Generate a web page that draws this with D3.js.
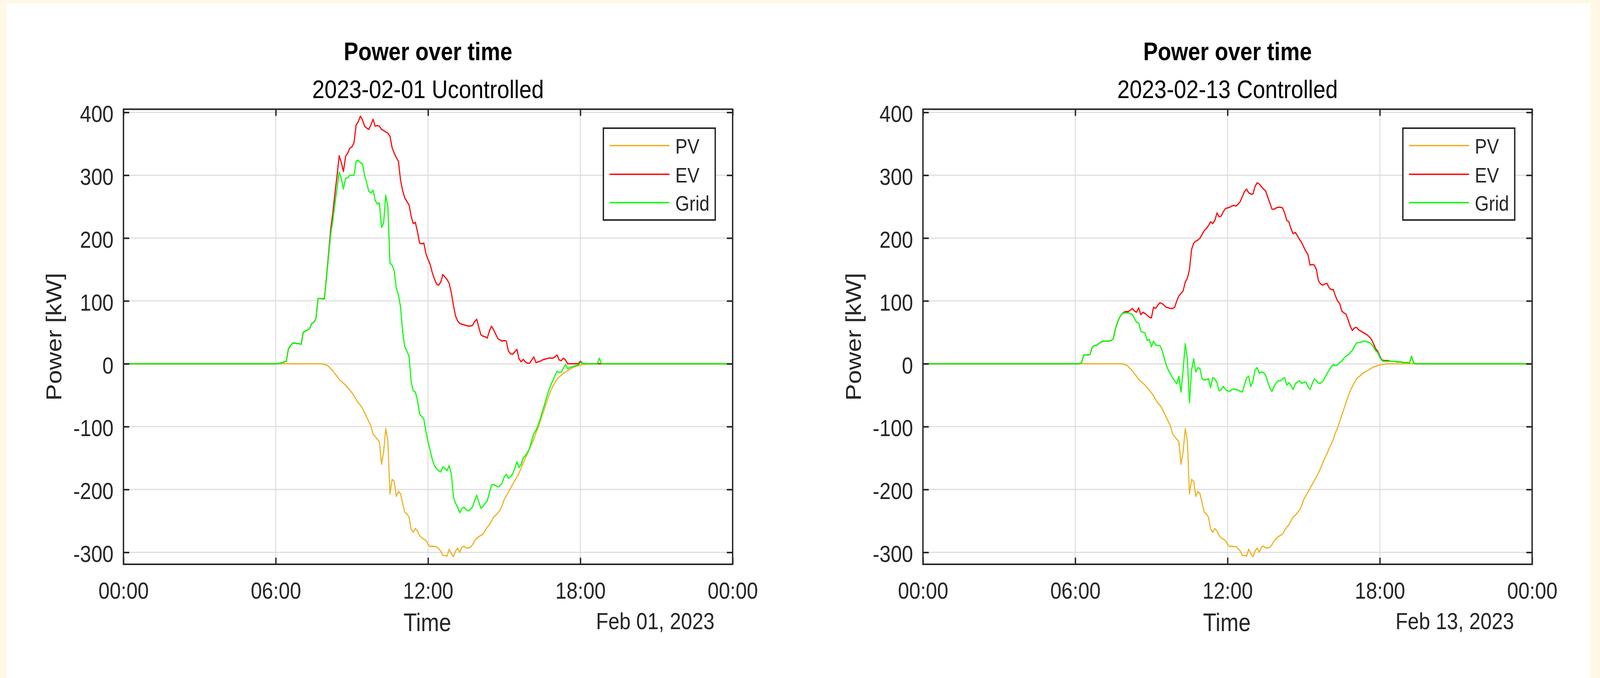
<!DOCTYPE html>
<html>
<head>
<meta charset="utf-8">
<script src="https://cdn.jsdelivr.net/npm/d3@7"></script>
<style>
html,body{margin:0;padding:0;background:#FFF8E5;width:100%;height:100%;overflow:hidden;}
svg{display:block;width:100vw;height:100vh;}
text{font-family:"Liberation Sans",Arial,Helvetica,sans-serif;}
</style>
</head>
<body>
<svg id="chart" viewBox="0 0 4691 1735" preserveAspectRatio="none"></svg>
<script>
// ---------------- DATA ----------------
const times = ["00:00",
"06:00","06:05","06:10","06:15","06:20","06:25","06:30","06:35","06:40","06:45","06:50","06:55",
"07:00","07:05","07:10","07:15","07:20","07:25","07:30","07:35","07:40","07:45","07:50","07:55",
"08:00","08:05","08:10","08:15","08:20","08:25","08:30","08:35","08:40","08:45","08:50","08:55",
"09:00","09:05","09:10","09:15","09:20","09:25","09:30","09:35","09:40","09:45","09:50","09:55",
"10:00","10:05","10:10","10:15","10:20","10:25","10:30","10:35","10:40","10:45","10:50","10:55",
"11:00","11:05","11:10","11:15","11:20","11:25","11:30","11:35","11:40","11:45","11:50","11:55",
"12:00","12:05","12:10","12:15","12:20","12:25","12:30","12:35","12:40","12:45","12:50","12:55",
"13:00","13:05","13:10","13:15","13:20","13:25","13:30","13:35","13:40","13:45","13:50","13:55",
"14:00","14:05","14:10","14:15","14:20","14:25","14:30","14:35","14:40","14:45","14:50","14:55",
"15:00","15:05","15:10","15:15","15:20","15:25","15:30","15:35","15:40","15:45","15:50","15:55",
"16:00","16:05","16:10","16:15","16:20","16:25","16:30","16:35","16:40","16:45","16:50","16:55",
"17:00","17:05","17:10","17:15","17:20","17:25","17:30","17:35","17:40","17:45","17:50","17:55",
"18:00","18:05","18:10","18:15","18:20","18:25","18:30","18:35","18:40","18:45","18:50","18:55",
"19:00","19:05","19:10","19:15","19:20","19:25","19:30",
"24:00"];

// PV power [kW] (same profile on both days)
const pvPower = [0,
0,0,0,0,0,0,0,0,0,0,0,0,
0,0,0,0,0,0,0,0,0,0,0,-1,
-2,-4,-8,-11,-16,-20,-25,-28,-31,-34,-38,-42,
-46,-51,-57,-62,-66,-71,-78,-85,-92,-99,-112,-116,
-120,-124,-160,-140,-103,-122,-207,-184,-187,-211,-203,-207,
-222,-236,-239,-244,-263,-268,-262,-266,-273,-277,-279,-281,
-287,-291,-290,-291,-291,-294,-298,-305,-305,-306,-295,-302,
-307,-298,-293,-300,-292,-290,-293,-293,-292,-288,-282,-278,
-275,-273,-271,-265,-260,-256,-250,-244,-241,-237,-233,-226,
-216,-210,-204,-198,-192,-186,-180,-174,-166,-158,-150,-143,
-135,-128,-120,-110,-102,-92,-82,-72,-62,-52,-43,-36,
-30,-24,-21,-18,-15,-13,-11,-9,-7,-5,-4,-3,
-2,-1,-1,0,0,0,0,0,0,0,0,0,
0,0,0,0,0,0,0,
0];

// 2023-02-01 uncontrolled
const evUncontrolled = [0,
0,0,1,2,3,4,24,29,33,33,32,32,
31,50,52,54,56,64,66,72,104,104,103,104,
139,177,215,240,272,300,331,320,306,330,335,343,
345,352,380,385,394,388,378,375,373,380,389,378,
379,378,373,371,369,367,362,344,335,328,322,292,
275,264,258,253,235,223,225,210,192,191,192,175,
166,158,145,135,127,125,130,142,138,134,128,113,
93,76,68,64,63,62,61,60,60,61,67,71,
58,46,44,43,41,52,60,54,47,40,38,36,
37,36,20,16,15,19,23,8,3,7,3,1,
1,6,11,2,3,4,6,7,8,9,9,9,
11,14,6,5,9,6,0,0,0,0,0,0,
4,1,0,0,0,0,0,0,0,0,0,0,
0,0,0,0,0,0,0,
0];
const gridUncontrolled = [0,
0,0,1,2,3,4,24,29,33,33,32,32,
31,50,52,54,56,64,66,72,104,104,103,103,
137,173,207,229,256,280,305,295,278,295,296,300,
300,300,322,324,320,318,300,288,274,272,276,260,
254,256,217,224,268,250,160,157,148,120,110,90,
50,27,20,12,-28,-43,-45,-58,-80,-84,-88,-108,
-124,-138,-152,-162,-167,-170,-172,-164,-167,-170,-162,-175,
-212,-222,-228,-237,-230,-228,-232,-234,-232,-228,-218,-209,
-220,-230,-227,-222,-218,-205,-193,-192,-194,-196,-194,-190,
-180,-176,-182,-180,-175,-167,-156,-165,-160,-150,-146,-141,
-134,-122,-111,-106,-98,-88,-76,-66,-54,-43,-34,-27,
-19,-12,-14,-13,-7,-1,-8,-6,-5,-4,-3,-2,
2,1,0,0,0,0,0,0,0,9,0,0,
0,0,0,0,0,0,0,
0];

// 2023-02-13 controlled
const evControlled = [0,
0,0,0,2,14,14,14,15,26,29,29,32,
34,36,36,36,36,37,40,56,66,74,79,82,
83,83,85,88,84,82,89,78,82,80,77,74,
73,90,88,93,97,96,93,90,89,88,88,90,
100,108,112,116,130,136,150,182,192,195,197,200,
206,212,215,220,226,223,228,240,234,235,242,247,
248,249,251,252,251,254,258,266,274,278,272,270,
270,282,288,286,282,278,275,265,256,246,246,248,
249,249,248,240,228,226,215,207,209,204,198,193,
186,179,174,157,158,157,150,132,127,125,127,128,
121,118,118,108,100,96,84,81,79,70,60,53,
57,58,54,52,50,48,46,43,39,32,24,20,
12,6,5,5,5,4,4,4,3,3,3,2,
2,2,1,12,1,0,0,
0];
const gridControlled = [0,
0,0,0,2,14,14,14,15,26,29,29,32,
34,36,36,36,36,37,40,56,66,74,79,81,
81,81,80,78,72,66,65,52,50,49,37,39,
27,36,30,29,29,22,10,-2,-10,-16,-22,-27,
-32,-20,-45,-10,32,8,-62,-10,8,-13,-6,-8,
-24,-26,-25,-24,-38,-22,-24,-30,-43,-41,-36,-41,
-43,-44,-41,-40,-41,-42,-44,-45,-34,-22,-20,-36,
-27,-10,-6,-15,-13,-14,-18,-29,-38,-44,-36,-30,
-27,-27,-24,-22,-34,-30,-35,-41,-32,-29,-27,-31,
-30,-29,-36,-41,-32,-24,-27,-31,-31,-28,-22,-16,
-10,-5,-1,-3,-2,2,4,9,12,14,18,21,
28,33,34,34,36,36,35,34,31,27,21,18,
10,5,4,4,4,4,4,4,3,3,3,2,
2,2,1,12,1,0,0,
0];

const seriesNames = ["PV", "EV", "Grid"];
const seriesColors = ["#EDB120", "#FF0000", "#00FF00"];
const yTickValues = [-300, -200, -100, 0, 100, 200, 300, 400];
const xTickLabels = ["00:00", "06:00", "12:00", "18:00", "00:00"];
const chartTitles = ["Power over time", "Power over time"];
const chartSubtitles = ["2023-02-01 Ucontrolled", "2023-02-13 Controlled"];
const dateLabels = ["Feb 01, 2023", "Feb 13, 2023"];
const chartDays = [1, 13];
const yLabel = "Power [kW]";
const xLabel = "Time";

// ---------------- DRAW ----------------
const svg = d3.select("#chart");
svg.append("rect").attr("x", 19).attr("y", 8).attr("width", 4644).attr("height", 1727).attr("fill", "#FFFFFF");

const W = 1786, H = 1164.5, TOP = 279.5;
const panelLefts = [362, 2706];
const AX = "#262626";
const evSets = [evUncontrolled, evControlled];
const gridSets = [gridUncontrolled, gridControlled];

panelLefts.forEach((x0, p) => {
  const day = chartDays[p];
  const parseT = s => { const [h, m] = s.split(":").map(Number); return new Date(2023, 1, day, h, m); };
  const tDates = times.map(parseT);
  const x = d3.scaleTime().domain([new Date(2023, 1, day, 0, 0), new Date(2023, 1, day + 1, 0, 0)]).range([0, W]);
  const y = d3.scaleLinear().domain([-319, 405]).range([H, 0]);
  const xTicks = d3.timeHour.every(6).range(x.domain()[0], new Date(2023, 1, day + 1, 0, 1));

  const g = svg.append("g").attr("transform", `translate(${x0},${TOP})`);

  // grid lines
  g.append("g").selectAll("line").data(xTicks).join("line")
    .attr("x1", d => x(d)).attr("x2", d => x(d)).attr("y1", 0).attr("y2", H)
    .attr("stroke", "#DFDFDF").attr("stroke-width", 3);
  g.append("g").selectAll("line").data(yTickValues).join("line")
    .attr("x1", 0).attr("x2", W).attr("y1", d => y(d)).attr("y2", d => y(d))
    .attr("stroke", "#DFDFDF").attr("stroke-width", 3);

  // series
  const series = [pvPower, evSets[p], gridSets[p]];
  const line = d3.line().x(d => x(d[0])).y(d => y(d[1]));
  series.forEach((vals, i) => {
    g.append("path").datum(tDates.map((t, k) => [t, vals[k]]))
      .attr("d", line).attr("fill", "none")
      .attr("stroke", seriesColors[i]).attr("stroke-width", 3.2)
      .attr("stroke-linejoin", "round");
  });

  // axes (inward ticks)
  const yAxisL = g.append("g").call(d3.axisLeft(y).tickValues(yTickValues).tickSize(-17).tickSizeOuter(0).tickPadding(29).tickFormat(d => String(d)));
  const yAxisR = g.append("g").attr("transform", `translate(${W},0)`).call(d3.axisRight(y).tickValues(yTickValues).tickSize(-17).tickSizeOuter(0).tickFormat(""));
  const xAxisB = g.append("g").attr("transform", `translate(0,${H})`).call(d3.axisBottom(x).tickValues(xTicks).tickSize(-17).tickSizeOuter(0).tickFormat((d, i) => xTickLabels[i]));
  const xAxisT = g.append("g").call(d3.axisTop(x).tickValues(xTicks).tickSize(-17).tickSizeOuter(0).tickFormat(""));
  [yAxisL, yAxisR, xAxisB, xAxisT].forEach(a => {
    a.select(".domain").remove();
    a.selectAll(".tick line").attr("stroke", AX).attr("stroke-width", 4);
    a.attr("font-family", null).attr("font-size", null);
  });
  yAxisL.selectAll(".tick text").attr("fill", AX).attr("font-size", 59).attr("dy", "0.41em");
  xAxisB.selectAll(".tick text").attr("fill", AX).attr("font-size", 59).attr("y", 88).attr("dy", 0);

  // box
  g.append("rect").attr("x", 0).attr("y", 0).attr("width", W).attr("height", H)
    .attr("fill", "none").attr("stroke", AX).attr("stroke-width", 4);

  // legend
  const lg = g.append("g").attr("transform", `translate(1407,48.5)`);
  lg.append("rect").attr("x", 0).attr("y", 0).attr("width", 328).attr("height", 235)
    .attr("fill", "#FFFFFF").attr("stroke", AX).attr("stroke-width", 4);
  const rowY = [44.5, 118, 190.5];
  seriesNames.forEach((name, i) => {
    lg.append("line").attr("x1", 18).attr("x2", 194).attr("y1", rowY[i]).attr("y2", rowY[i])
      .attr("stroke", seriesColors[i]).attr("stroke-width", 3.5);
    lg.append("text").attr("x", 211).attr("y", rowY[i] + 21).attr("font-size", 53).attr("fill", AX).text(name);
  });

  // titles and labels
  svg.append("text").attr("x", x0 + W / 2).attr("y", 153.7).attr("text-anchor", "middle")
    .attr("font-size", 64).attr("font-weight", "bold").attr("fill", "#000").text(chartTitles[p]);
  svg.append("text").attr("x", x0 + W / 2).attr("y", 251).attr("text-anchor", "middle")
    .attr("font-size", 65).attr("fill", "#000").text(chartSubtitles[p]);
  svg.append("text").attr("transform", `translate(${x0 - 182},${TOP + H / 2}) rotate(-90)`)
    .attr("text-anchor", "middle").attr("font-size", 64).attr("fill", AX).text(yLabel);
  svg.append("text").attr("x", x0 + W / 2 - 2).attr("y", 1615).attr("text-anchor", "middle")
    .attr("font-size", 64).attr("fill", AX).text(xLabel);
  svg.append("text").attr("x", x0 + 1733).attr("y", 1610).attr("text-anchor", "end")
    .attr("font-size", 59).attr("fill", AX).text(dateLabels[p]);
});
</script>
</body>
</html>
